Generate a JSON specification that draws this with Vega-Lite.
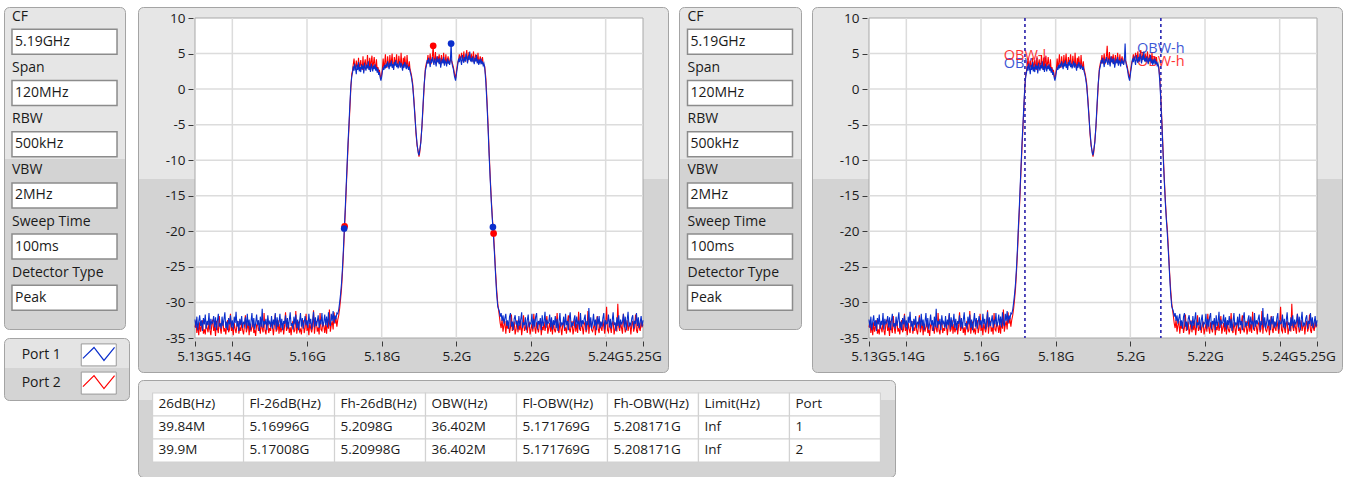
{
"$schema": "https://vega.github.io/schema/vega-lite/v6.json",
"background": "white",
"padding": {"left": 3, "top": 6, "right": 0, "bottom": 0},
"config": {"view": {"stroke": null}, "font": "Open Sans", "text": {"font": "Open Sans"}},
"datasets": {
"spec": [
{"f":5.13,"a":-32.4,"b":-33.5},{"f":5.13025,"a":-33.6,"b":-32.6},{"f":5.1305,"a":-32.0,"b":-34.3},{"f":5.13075,"a":-33.9,"b":-33.0},{"f":5.131,"a":-32.7,"b":-34.6},{"f":5.13125,"a":-31.8,"b":-32.8},{"f":5.1315,"a":-33.3,"b":-34.1},{"f":5.13175,"a":-32.5,"b":-33.4},{"f":5.132,"a":-34.0,"b":-32.5},{"f":5.13225,"a":-32.2,"b":-34.4},
{"f":5.1325,"a":-33.1,"b":-33.8},{"f":5.13275,"a":-31.7,"b":-34.5},{"f":5.133,"a":-33.7,"b":-32.9},{"f":5.13325,"a":-32.6,"b":-33.6},{"f":5.1335,"a":-33.2,"b":-34.2},{"f":5.13375,"a":-31.5,"b":-32.7},{"f":5.134,"a":-33.8,"b":-33.9},{"f":5.13425,"a":-32.3,"b":-34.6},{"f":5.1345,"a":-33.0,"b":-33.1},{"f":5.13475,"a":-32.8,"b":-32.4},
{"f":5.135,"a":-31.9,"b":-34.0},{"f":5.13525,"a":-33.5,"b":-33.3},{"f":5.1355,"a":-32.1,"b":-34.7},{"f":5.13575,"a":-33.9,"b":-32.6},{"f":5.136,"a":-32.6,"b":-33.7},{"f":5.13625,"a":-31.6,"b":-34.3},{"f":5.1365,"a":-33.4,"b":-31.9},{"f":5.13675,"a":-32.9,"b":-33.5},{"f":5.137,"a":-33.7,"b":-34.4},{"f":5.13725,"a":-32.0,"b":-33.0},
{"f":5.1375,"a":-33.3,"b":-32.8},{"f":5.13775,"a":-32.4,"b":-34.1},{"f":5.138,"a":-31.4,"b":-33.6},{"f":5.13825,"a":-33.6,"b":-34.5},{"f":5.1385,"a":-32.7,"b":-33.2},{"f":5.13875,"a":-33.9,"b":-32.5},{"f":5.139,"a":-32.2,"b":-34.2},{"f":5.13925,"a":-33.1,"b":-33.8},{"f":5.1395,"a":-31.8,"b":-31.6},{"f":5.13975,"a":-33.5,"b":-34.0},
{"f":5.14,"a":-32.5,"b":-33.4},{"f":5.14025,"a":-33.8,"b":-34.6},{"f":5.1405,"a":-32.0,"b":-32.9},{"f":5.14075,"a":-32.9,"b":-33.7},{"f":5.141,"a":-31.3,"b":-34.3},{"f":5.14125,"a":-33.4,"b":-33.1},{"f":5.1415,"a":-32.6,"b":-32.6},{"f":5.14175,"a":-34.0,"b":-34.4},{"f":5.142,"a":-32.3,"b":-33.5},{"f":5.14225,"a":-33.2,"b":-34.0},
{"f":5.1425,"a":-31.9,"b":-32.7},{"f":5.14275,"a":-33.6,"b":-33.9},{"f":5.143,"a":-32.8,"b":-34.5},{"f":5.14325,"a":-33.0,"b":-33.3},{"f":5.1435,"a":-32.1,"b":-31.8},{"f":5.14375,"a":-33.7,"b":-34.2},{"f":5.144,"a":-31.6,"b":-33.6},{"f":5.14425,"a":-33.3,"b":-32.8},{"f":5.1445,"a":-32.4,"b":-34.6},{"f":5.14475,"a":-33.9,"b":-33.0},
{"f":5.145,"a":-32.7,"b":-34.1},{"f":5.14525,"a":-31.5,"b":-33.4},{"f":5.1455,"a":-33.5,"b":-32.5},{"f":5.14575,"a":-32.2,"b":-34.3},{"f":5.146,"a":-33.8,"b":-33.8},{"f":5.14625,"a":-32.9,"b":-34.7},{"f":5.1465,"a":-31.7,"b":-33.2},{"f":5.14675,"a":-33.2,"b":-32.9},{"f":5.147,"a":-32.5,"b":-34.0},{"f":5.14725,"a":-34.0,"b":-33.5},
{"f":5.1475,"a":-32.0,"b":-34.4},{"f":5.14775,"a":-33.4,"b":-32.6},{"f":5.148,"a":-30.9,"b":-33.7},{"f":5.14825,"a":-33.6,"b":-34.2},{"f":5.1485,"a":-32.6,"b":-31.5},{"f":5.14875,"a":-33.1,"b":-33.9},{"f":5.149,"a":-32.3,"b":-34.5},{"f":5.14925,"a":-33.9,"b":-33.1},{"f":5.1495,"a":-31.8,"b":-32.8},{"f":5.14975,"a":-33.0,"b":-34.3},
{"f":5.15,"a":-32.7,"b":-33.6},{"f":5.15025,"a":-33.5,"b":-34.0},{"f":5.1505,"a":-31.9,"b":-32.7},{"f":5.15075,"a":-33.7,"b":-33.4},{"f":5.151,"a":-32.4,"b":-34.6},{"f":5.15125,"a":-33.2,"b":-33.2},{"f":5.1515,"a":-31.5,"b":-31.7},{"f":5.15175,"a":-33.8,"b":-34.1},{"f":5.152,"a":-32.1,"b":-33.8},{"f":5.15225,"a":-33.4,"b":-32.5},
{"f":5.1525,"a":-32.8,"b":-34.4},{"f":5.15275,"a":-31.6,"b":-33.0},{"f":5.153,"a":-33.6,"b":-34.2},{"f":5.15325,"a":-32.3,"b":-33.7},{"f":5.1535,"a":-33.9,"b":-32.9},{"f":5.15375,"a":-32.6,"b":-34.5},{"f":5.154,"a":-33.0,"b":-33.3},{"f":5.15425,"a":-31.8,"b":-31.4},{"f":5.1545,"a":-33.5,"b":-34.0},{"f":5.15475,"a":-32.2,"b":-33.6},
{"f":5.155,"a":-33.7,"b":-32.8},{"f":5.15525,"a":-32.5,"b":-34.3},{"f":5.1555,"a":-31.4,"b":-33.5},{"f":5.15575,"a":-33.3,"b":-34.6},{"f":5.156,"a":-32.9,"b":-33.1},{"f":5.15625,"a":-33.8,"b":-32.6},{"f":5.1565,"a":-32.0,"b":-34.2},{"f":5.15675,"a":-33.1,"b":-33.9},{"f":5.157,"a":-31.7,"b":-31.2},{"f":5.15725,"a":-33.6,"b":-34.4},
{"f":5.1575,"a":-32.4,"b":-33.4},{"f":5.15775,"a":-33.9,"b":-32.7},{"f":5.158,"a":-32.7,"b":-34.1},{"f":5.15825,"a":-31.5,"b":-33.8},{"f":5.1585,"a":-33.4,"b":-34.5},{"f":5.15875,"a":-32.2,"b":-33.0},{"f":5.159,"a":-33.7,"b":-32.5},{"f":5.15925,"a":-32.8,"b":-34.3},{"f":5.1595,"a":-31.9,"b":-33.6},{"f":5.15975,"a":-33.2,"b":-31.6},
{"f":5.16,"a":-32.5,"b":-34.0},{"f":5.16025,"a":-33.6,"b":-33.2},{"f":5.1605,"a":-31.6,"b":-34.6},{"f":5.16075,"a":-33.0,"b":-32.9},{"f":5.161,"a":-32.3,"b":-33.7},{"f":5.16125,"a":-33.8,"b":-34.2},{"f":5.1615,"a":-32.6,"b":-33.4},{"f":5.16175,"a":-31.3,"b":-31.1},{"f":5.162,"a":-33.5,"b":-34.4},{"f":5.16225,"a":-32.1,"b":-33.0},
{"f":5.1625,"a":-33.3,"b":-32.6},{"f":5.16275,"a":-32.7,"b":-34.1},{"f":5.163,"a":-31.8,"b":-33.5},{"f":5.16325,"a":-33.6,"b":-34.5},{"f":5.1635,"a":-32.4,"b":-31.5},{"f":5.16375,"a":-33.1,"b":-33.8},{"f":5.164,"a":-31.5,"b":-34.0},{"f":5.16425,"a":-33.4,"b":-32.8},{"f":5.1645,"a":-32.8,"b":-33.3},{"f":5.16475,"a":-31.7,"b":-34.3},
{"f":5.165,"a":-33.2,"b":-33.0},{"f":5.16525,"a":-32.0,"b":-34.4},{"f":5.1655,"a":-33.5,"b":-32.4},{"f":5.16575,"a":-31.4,"b":-33.7},{"f":5.166,"a":-32.9,"b":-31.0},{"f":5.16625,"a":-33.3,"b":-34.1},{"f":5.1665,"a":-31.6,"b":-33.2},{"f":5.16675,"a":-32.6,"b":-32.6},{"f":5.167,"a":-31.2,"b":-33.8},{"f":5.16725,"a":-32.9,"b":-31.4},
{"f":5.1675,"a":-31.8,"b":-33.0},{"f":5.16775,"a":-32.4,"b":-32.2},{"f":5.168,"a":-31.5,"b":-33.4},
{"f":5.16825,"a":-31.6,"b":-32.4},{"f":5.1685,"a":-31.0,"b":-31.8},{"f":5.16875,"a":-30.0,"b":-30.8},{"f":5.169,"a":-28.8,"b":-29.5},{"f":5.16925,"a":-27.3,"b":-28.0},{"f":5.1695,"a":-25.2,"b":-25.8},{"f":5.16975,"a":-22.6,"b":-23.2},{"f":5.17,"a":-19.5,"b":-20.2},
{"f":5.17025,"a":-16.8,"b":-17.3},{"f":5.1705,"a":-13.6,"b":-14.2},{"f":5.17075,"a":-10.5,"b":-11.0},{"f":5.171,"a":-7.4,"b":-8.0},{"f":5.17125,"a":-4.8,"b":-5.3},{"f":5.1715,"a":-2.0,"b":-2.6},{"f":5.17175,"a":0.5,"b":0.2},{"f":5.172,"a":1.8,"b":2.2},
{"f":5.1722,"a":2.3,"b":2.6},{"f":5.1724,"a":3.2,"b":3.5},{"f":5.1726,"a":2.6,"b":4.3},{"f":5.1728,"a":3.6,"b":3.1},{"f":5.173,"a":2.9,"b":2.7},{"f":5.1732,"a":2.1,"b":4.0},{"f":5.1734,"a":3.4,"b":3.2},{"f":5.1736,"a":2.7,"b":2.9},{"f":5.1738,"a":3.8,"b":4.4},{"f":5.174,"a":2.5,"b":2.8},
{"f":5.1742,"a":3.1,"b":3.4},{"f":5.1744,"a":2.4,"b":4.1},{"f":5.1746,"a":3.5,"b":3.0},{"f":5.1748,"a":2.8,"b":2.7},{"f":5.175,"a":3.3,"b":4.6},{"f":5.1752,"a":2.2,"b":2.5},{"f":5.1754,"a":3.7,"b":3.6},{"f":5.1756,"a":3.0,"b":4.2},{"f":5.1758,"a":2.6,"b":2.9},{"f":5.176,"a":3.4,"b":3.3},
{"f":5.1762,"a":2.9,"b":4.8},{"f":5.1764,"a":3.9,"b":3.5},{"f":5.1766,"a":2.7,"b":2.8},{"f":5.1768,"a":3.2,"b":4.4},{"f":5.177,"a":2.4,"b":2.6},{"f":5.1772,"a":3.6,"b":3.9},{"f":5.1774,"a":3.0,"b":4.7},{"f":5.1776,"a":2.5,"b":2.9},{"f":5.1778,"a":3.3,"b":3.6},{"f":5.178,"a":2.8,"b":4.5},
{"f":5.1782,"a":3.5,"b":3.3},{"f":5.1784,"a":2.6,"b":2.8},{"f":5.1786,"a":3.1,"b":4.2},{"f":5.1788,"a":2.3,"b":2.6},{"f":5.179,"a":2.9,"b":3.1},{"f":5.1792,"a":2.0,"b":2.4},{"f":5.1794,"a":2.4,"b":2.7},{"f":5.1796,"a":1.6,"b":1.9},{"f":5.1798,"a":1.2,"b":1.5},{"f":5.18,"a":1.7,"b":2.1},
{"f":5.1802,"a":2.5,"b":2.9},{"f":5.1804,"a":3.0,"b":4.3},{"f":5.1806,"a":2.7,"b":3.0},{"f":5.1808,"a":3.4,"b":3.6},{"f":5.181,"a":2.9,"b":4.9},{"f":5.1812,"a":3.6,"b":3.3},{"f":5.1814,"a":3.1,"b":3.0},{"f":5.1816,"a":3.9,"b":4.6},{"f":5.1818,"a":3.3,"b":3.5},{"f":5.182,"a":2.8,"b":3.1},
{"f":5.1822,"a":3.7,"b":4.8},{"f":5.1824,"a":3.2,"b":3.4},{"f":5.1826,"a":4.0,"b":3.9},{"f":5.1828,"a":3.0,"b":5.0},{"f":5.183,"a":3.5,"b":3.2},{"f":5.1832,"a":2.7,"b":3.0},{"f":5.1834,"a":3.8,"b":4.5},{"f":5.1836,"a":3.3,"b":3.6},{"f":5.1838,"a":4.1,"b":3.8},{"f":5.184,"a":3.1,"b":4.9},
{"f":5.1842,"a":3.6,"b":3.3},{"f":5.1844,"a":2.9,"b":3.2},{"f":5.1846,"a":3.4,"b":4.7},{"f":5.1848,"a":3.9,"b":3.6},{"f":5.185,"a":3.0,"b":3.1},{"f":5.1852,"a":3.7,"b":5.1},{"f":5.1854,"a":3.2,"b":3.4},{"f":5.1856,"a":2.6,"b":2.9},{"f":5.1858,"a":3.5,"b":4.4},{"f":5.186,"a":3.0,"b":3.2},
{"f":5.1862,"a":3.8,"b":4.6},{"f":5.1864,"a":3.3,"b":3.5},{"f":5.1866,"a":2.8,"b":3.0},{"f":5.1868,"a":3.4,"b":4.8},{"f":5.187,"a":3.1,"b":3.3},{"f":5.1872,"a":2.7,"b":2.9},{"f":5.1874,"a":3.2,"b":3.9},{"f":5.1876,"a":2.5,"b":2.8},{"f":5.1878,"a":2.1,"b":2.4},{"f":5.188,"a":1.6,"b":1.9},
{"f":5.1883,"a":0.5,"b":0.8},{"f":5.1886,"a":-1.5,"b":-1.2},{"f":5.1889,"a":-3.8,"b":-3.5},{"f":5.1892,"a":-6.0,"b":-6.3},{"f":5.1895,"a":-7.8,"b":-8.0},{"f":5.1898,"a":-9.0,"b":-8.8},{"f":5.19,"a":-9.3,"b":-9.5},
{"f":5.1902,"a":-8.6,"b":-8.9},{"f":5.1905,"a":-7.5,"b":-7.2},{"f":5.1908,"a":-5.0,"b":-5.3},{"f":5.1911,"a":-2.0,"b":-2.4},{"f":5.1914,"a":0.8,"b":0.5},{"f":5.1917,"a":2.6,"b":2.9},
{"f":5.192,"a":3.3,"b":3.7},{"f":5.1922,"a":4.1,"b":3.9},{"f":5.1924,"a":3.6,"b":4.8},{"f":5.1926,"a":4.4,"b":3.6},{"f":5.1928,"a":3.8,"b":4.1},{"f":5.193,"a":3.1,"b":5.0},{"f":5.1932,"a":4.2,"b":3.5},{"f":5.1934,"a":3.7,"b":4.0},{"f":5.1936,"a":4.5,"b":4.7},{"f":5.1938,"a":3.9,"b":6.1},
{"f":5.194,"a":3.4,"b":3.8},{"f":5.1942,"a":4.3,"b":4.0},{"f":5.1944,"a":3.8,"b":5.2},{"f":5.1946,"a":3.2,"b":3.5},{"f":5.1948,"a":4.6,"b":4.3},{"f":5.195,"a":3.9,"b":4.6},{"f":5.1952,"a":4.1,"b":3.7},{"f":5.1954,"a":3.5,"b":4.9},{"f":5.1956,"a":4.4,"b":3.9},{"f":5.1958,"a":3.0,"b":3.4},
{"f":5.196,"a":3.7,"b":4.8},{"f":5.1962,"a":4.2,"b":3.9},{"f":5.1964,"a":3.6,"b":3.8},{"f":5.1966,"a":4.5,"b":5.1},{"f":5.1968,"a":3.3,"b":3.6},{"f":5.197,"a":4.0,"b":3.7},{"f":5.1972,"a":3.8,"b":4.9},{"f":5.1974,"a":3.2,"b":3.5},{"f":5.1976,"a":4.3,"b":4.1},{"f":5.1978,"a":3.6,"b":4.6},
{"f":5.198,"a":3.9,"b":3.7},{"f":5.1982,"a":3.4,"b":3.6},{"f":5.1984,"a":4.0,"b":4.4},{"f":5.1986,"a":6.4,"b":4.1},{"f":5.1988,"a":3.7,"b":3.9},{"f":5.199,"a":3.2,"b":3.5},{"f":5.1992,"a":2.8,"b":3.1},
{"f":5.1995,"a":1.8,"b":2.2},{"f":5.1998,"a":1.2,"b":1.5},{"f":5.2001,"a":2.4,"b":2.8},
{"f":5.2004,"a":3.5,"b":3.8},{"f":5.2006,"a":4.3,"b":4.1},{"f":5.2008,"a":3.8,"b":4.9},{"f":5.201,"a":4.6,"b":4.2},{"f":5.2012,"a":4.0,"b":4.3},{"f":5.2014,"a":3.4,"b":5.1},{"f":5.2016,"a":4.8,"b":4.4},{"f":5.2018,"a":4.1,"b":3.9},{"f":5.202,"a":3.7,"b":5.3},{"f":5.2022,"a":4.5,"b":4.2},
{"f":5.2024,"a":3.9,"b":4.0},{"f":5.2026,"a":5.0,"b":4.7},{"f":5.2028,"a":4.2,"b":5.5},{"f":5.203,"a":3.6,"b":3.8},{"f":5.2032,"a":4.7,"b":4.4},{"f":5.2034,"a":4.1,"b":5.2},{"f":5.2036,"a":5.3,"b":4.6},{"f":5.2038,"a":3.9,"b":4.1},{"f":5.204,"a":4.4,"b":5.0},{"f":5.2042,"a":3.8,"b":3.9},
{"f":5.2044,"a":4.6,"b":4.4},{"f":5.2046,"a":4.0,"b":5.3},{"f":5.2048,"a":3.5,"b":3.7},{"f":5.205,"a":4.4,"b":4.2},{"f":5.2052,"a":3.9,"b":4.9},{"f":5.2054,"a":4.8,"b":4.5},{"f":5.2056,"a":3.6,"b":3.8},{"f":5.2058,"a":4.2,"b":5.1},{"f":5.206,"a":3.4,"b":3.6},{"f":5.2062,"a":4.0,"b":3.9},
{"f":5.2064,"a":3.7,"b":4.6},{"f":5.2066,"a":4.3,"b":4.0},{"f":5.2068,"a":3.5,"b":3.8},{"f":5.207,"a":3.9,"b":4.5},{"f":5.2072,"a":3.3,"b":3.5},{"f":5.2074,"a":3.6,"b":3.4},{"f":5.2076,"a":3.0,"b":3.2},
{"f":5.2079,"a":1.0,"b":1.6},{"f":5.2082,"a":-2.0,"b":-1.5},{"f":5.2085,"a":-5.5,"b":-5.0},{"f":5.2088,"a":-9.5,"b":-9.0},{"f":5.2091,"a":-13.0,"b":-12.6},{"f":5.2094,"a":-16.2,"b":-15.8},{"f":5.2097,"a":-18.8,"b":-18.5},{"f":5.2099,"a":-20.3,"b":-19.6},{"f":5.2102,"a":-23.0,"b":-22.5},{"f":5.2105,"a":-26.0,"b":-25.6},{"f":5.2108,"a":-28.8,"b":-28.2},{"f":5.2111,"a":-30.6,"b":-30.2},
{"f":5.2115,"a":-31.2,"b":-31.8},{"f":5.21175,"a":-32.0,"b":-32.9},{"f":5.212,"a":-31.5,"b":-33.6},{"f":5.21225,"a":-32.6,"b":-32.4},{"f":5.2125,"a":-31.8,"b":-34.1},{"f":5.21275,"a":-33.0,"b":-33.2},{"f":5.213,"a":-32.2,"b":-32.6},{"f":5.21325,"a":-31.6,"b":-34.4},{"f":5.2135,"a":-33.3,"b":-33.0},{"f":5.21375,"a":-32.5,"b":-33.7},
{"f":5.214,"a":-33.7,"b":-32.8},{"f":5.21425,"a":-32.0,"b":-34.3},{"f":5.2145,"a":-31.5,"b":-33.5},{"f":5.21475,"a":-33.4,"b":-31.7},{"f":5.215,"a":-32.7,"b":-34.0},{"f":5.21525,"a":-33.9,"b":-33.3},{"f":5.2155,"a":-32.3,"b":-32.7},{"f":5.21575,"a":-31.8,"b":-34.5},{"f":5.216,"a":-33.1,"b":-33.8},{"f":5.21625,"a":-32.6,"b":-32.5},
{"f":5.2165,"a":-33.8,"b":-34.2},{"f":5.21675,"a":-31.9,"b":-33.1},{"f":5.217,"a":-33.3,"b":-33.9},{"f":5.21725,"a":-32.4,"b":-32.6},{"f":5.2175,"a":-31.4,"b":-34.6},{"f":5.21775,"a":-33.6,"b":-33.4},{"f":5.218,"a":-32.8,"b":-31.8},{"f":5.21825,"a":-33.2,"b":-34.0},{"f":5.2185,"a":-32.1,"b":-33.6},{"f":5.21875,"a":-33.9,"b":-32.9},
{"f":5.219,"a":-32.5,"b":-34.3},{"f":5.21925,"a":-31.7,"b":-33.2},{"f":5.2195,"a":-33.5,"b":-32.7},{"f":5.21975,"a":-32.9,"b":-34.5},{"f":5.22,"a":-33.0,"b":-33.8},{"f":5.22025,"a":-31.6,"b":-33.0},{"f":5.2205,"a":-33.7,"b":-34.1},{"f":5.22075,"a":-32.3,"b":-31.6},{"f":5.221,"a":-33.4,"b":-33.5},{"f":5.22125,"a":-32.0,"b":-34.4},
{"f":5.2215,"a":-31.5,"b":-32.8},{"f":5.22175,"a":-33.8,"b":-33.7},{"f":5.222,"a":-32.6,"b":-34.2},{"f":5.22225,"a":-33.1,"b":-33.1},{"f":5.2225,"a":-32.2,"b":-32.5},{"f":5.22275,"a":-33.9,"b":-34.6},{"f":5.223,"a":-31.8,"b":-33.4},{"f":5.22325,"a":-33.3,"b":-33.9},{"f":5.2235,"a":-32.7,"b":-32.7},{"f":5.22375,"a":-31.3,"b":-34.0},
{"f":5.224,"a":-33.6,"b":-33.3},{"f":5.22425,"a":-32.4,"b":-31.9},{"f":5.2245,"a":-33.0,"b":-34.4},{"f":5.22475,"a":-32.8,"b":-33.6},{"f":5.225,"a":-31.7,"b":-32.9},{"f":5.22525,"a":-33.5,"b":-34.1},{"f":5.2255,"a":-32.1,"b":-33.0},{"f":5.22575,"a":-33.8,"b":-34.5},{"f":5.226,"a":-32.5,"b":-32.6},{"f":5.22625,"a":-33.2,"b":-33.8},
{"f":5.2265,"a":-31.9,"b":-34.2},{"f":5.22675,"a":-33.6,"b":-33.4},{"f":5.227,"a":-32.3,"b":-31.5},{"f":5.22725,"a":-34.0,"b":-33.9},{"f":5.2275,"a":-32.7,"b":-34.3},{"f":5.22775,"a":-31.5,"b":-32.8},{"f":5.228,"a":-33.4,"b":-33.6},{"f":5.22825,"a":-32.9,"b":-34.6},{"f":5.2285,"a":-33.1,"b":-33.1},{"f":5.22875,"a":-32.0,"b":-32.7},
{"f":5.229,"a":-33.7,"b":-34.0},{"f":5.22925,"a":-31.6,"b":-33.5},{"f":5.2295,"a":-33.2,"b":-34.4},{"f":5.22975,"a":-32.6,"b":-32.9},{"f":5.23,"a":-33.9,"b":-31.8},{"f":5.23025,"a":-32.2,"b":-33.7},{"f":5.2305,"a":-31.4,"b":-34.2},{"f":5.23075,"a":-33.5,"b":-33.3},{"f":5.231,"a":-32.8,"b":-32.6},{"f":5.23125,"a":-33.3,"b":-34.5},
{"f":5.2315,"a":-32.4,"b":-33.8},{"f":5.23175,"a":-31.8,"b":-32.4},{"f":5.232,"a":-33.6,"b":-34.1},{"f":5.23225,"a":-32.0,"b":-33.0},{"f":5.2325,"a":-33.0,"b":-34.3},{"f":5.23275,"a":-32.7,"b":-31.3},{"f":5.233,"a":-33.8,"b":-33.6},{"f":5.23325,"a":-31.5,"b":-34.0},{"f":5.2335,"a":-33.4,"b":-32.8},{"f":5.23375,"a":-32.5,"b":-33.4},
{"f":5.234,"a":-33.1,"b":-34.5},{"f":5.23425,"a":-32.3,"b":-33.1},{"f":5.2345,"a":-31.7,"b":-32.7},{"f":5.23475,"a":-33.9,"b":-34.2},{"f":5.235,"a":-32.6,"b":-33.7},{"f":5.23525,"a":-33.2,"b":-31.2},{"f":5.2355,"a":-30.8,"b":-34.4},{"f":5.23575,"a":-33.5,"b":-33.0},{"f":5.236,"a":-32.1,"b":-32.6},{"f":5.23625,"a":-33.7,"b":-33.9},
{"f":5.2365,"a":-32.8,"b":-34.1},{"f":5.23675,"a":-31.6,"b":-33.5},{"f":5.237,"a":-33.3,"b":-32.9},{"f":5.23725,"a":-32.4,"b":-34.6},{"f":5.2375,"a":-33.9,"b":-33.2},{"f":5.23775,"a":-32.0,"b":-31.9},{"f":5.238,"a":-33.1,"b":-33.8},{"f":5.23825,"a":-31.9,"b":-34.3},{"f":5.2385,"a":-33.6,"b":-32.7},{"f":5.23875,"a":-32.7,"b":-33.6},
{"f":5.239,"a":-33.4,"b":-34.0},{"f":5.23925,"a":-32.2,"b":-32.5},{"f":5.2395,"a":-31.5,"b":-33.4},{"f":5.23975,"a":-33.8,"b":-34.4},{"f":5.24,"a":-32.5,"b":-33.1},{"f":5.24025,"a":-33.0,"b":-30.6},{"f":5.2405,"a":-32.9,"b":-33.9},{"f":5.24075,"a":-31.7,"b":-34.2},{"f":5.241,"a":-33.5,"b":-32.8},{"f":5.24125,"a":-32.3,"b":-33.5},
{"f":5.2415,"a":-33.7,"b":-34.3},{"f":5.24175,"a":-32.6,"b":-33.0},{"f":5.242,"a":-31.4,"b":-32.6},{"f":5.24225,"a":-33.2,"b":-34.5},{"f":5.2425,"a":-32.8,"b":-33.7},{"f":5.24275,"a":-34.0,"b":-32.9},{"f":5.243,"a":-32.1,"b":-34.1},{"f":5.24325,"a":-33.3,"b":-30.2},{"f":5.2435,"a":-31.8,"b":-33.4},{"f":5.24375,"a":-33.6,"b":-34.0},
{"f":5.244,"a":-32.4,"b":-32.7},{"f":5.24425,"a":-33.1,"b":-33.6},{"f":5.2445,"a":-32.7,"b":-34.4},{"f":5.24475,"a":-31.6,"b":-31.6},{"f":5.245,"a":-33.5,"b":-33.2},{"f":5.24525,"a":-32.0,"b":-34.2},{"f":5.2455,"a":-33.9,"b":-33.8},{"f":5.24575,"a":-32.5,"b":-32.5},{"f":5.246,"a":-31.3,"b":-34.0},{"f":5.24625,"a":-33.4,"b":-33.3},
{"f":5.2465,"a":-32.9,"b":-32.9},{"f":5.24675,"a":-33.2,"b":-34.5},{"f":5.247,"a":-32.2,"b":-33.1},{"f":5.24725,"a":-31.8,"b":-32.6},{"f":5.2475,"a":-33.7,"b":-34.1},{"f":5.24775,"a":-32.6,"b":-33.5},{"f":5.248,"a":-33.0,"b":-31.7},{"f":5.24825,"a":-31.5,"b":-33.9},{"f":5.2485,"a":-33.3,"b":-34.3},{"f":5.24875,"a":-32.1,"b":-32.8},
{"f":5.249,"a":-33.6,"b":-33.6},{"f":5.24925,"a":-32.8,"b":-34.0},{"f":5.2495,"a":-31.9,"b":-32.7},{"f":5.24975,"a":-33.4,"b":-33.4},{"f":5.25,"a":-32.5,"b":-33.1}
],
"settings": [
{"i":0,"k":"CF","v":"5.19GHz"},{"i":1,"k":"Span","v":"120MHz"},{"i":2,"k":"RBW","v":"500kHz"},
{"i":3,"k":"VBW","v":"2MHz"},{"i":4,"k":"Sweep Time","v":"100ms"},{"i":5,"k":"Detector Type","v":"Peak"}
],
"gridx": [{"g":5.14},{"g":5.16},{"g":5.18},{"g":5.2},{"g":5.22},{"g":5.24}],
"gridy": [{"g":-30},{"g":-25},{"g":-20},{"g":-15},{"g":-10},{"g":-5},{"g":0},{"g":5}]
},
"hconcat": [
{"vconcat": [
 {"width": 121, "height": 322,
  "view": {"fill": {"gradient": "linear", "x1": 0, "y1": 0, "x2": 0, "y2": 1, "stops": [{"offset": 0, "color": "#e6e6e6"}, {"offset": 0.47, "color": "#e6e6e6"}, {"offset": 0.47, "color": "#d3d3d3"}, {"offset": 1, "color": "#d3d3d3"}]}, "stroke": "#a4a4a4", "cornerRadius": 5},
  "data": {"name": "settings"},
  "encoding": {
   "x": {"datum": "p", "type": "nominal", "scale": {"type": "band", "paddingInner": 0, "paddingOuter": 0.076}, "axis": null},
   "y": {"field": "i", "type": "ordinal", "scale": {"type": "band", "paddingInner": 0, "paddingOuter": 0.145, "align": 0.05}, "axis": null}
  },
  "layer": [
   {"mark": {"type": "rect", "height": 25, "yOffset": 8.5, "fill": "white", "stroke": "#8c8c8c", "strokeWidth": 1.5}},
   {"mark": {"type": "text", "align": "left", "baseline": "middle", "dx": -52.5, "dy": -16.6, "fontSize": 14, "color": "#1a1a1a"}, "encoding": {"text": {"field": "k"}}},
   {"mark": {"type": "text", "align": "left", "baseline": "middle", "dx": -49.5, "dy": 8.4, "fontSize": 14, "color": "#1a1a1a"}, "encoding": {"text": {"field": "v"}}}
  ]
 },
 {"width": 125, "height": 62,
  "view": {"fill": {"gradient": "linear", "x1": 0, "y1": 0, "x2": 0, "y2": 1, "stops": [{"offset": 0, "color": "#e4e4e4"}, {"offset": 0.48, "color": "#e4e4e4"}, {"offset": 0.48, "color": "#d4d4d4"}, {"offset": 1, "color": "#d4d4d4"}]}, "stroke": "#a4a4a4", "cornerRadius": 5},
  "data": {"values": [{"p": "Port 1"}, {"p": "Port 2"}]},
  "encoding": {"y": {"field": "p", "type": "nominal", "scale": {"type": "band", "paddingInner": 0, "paddingOuter": 0.1}, "axis": null}},
  "layer": [
   {"mark": {"type": "text", "fontSize": 14, "color": "#1a1a1a", "dx": 6, "baseline": "middle"},
    "encoding": {"x": {"datum": "t", "type": "nominal", "scale": {"type": "band", "domain": ["t", "i"], "paddingInner": 0, "paddingOuter": 0}, "axis": null}, "text": {"field": "p"}}},
   {"mark": {"type": "rect", "width": 35, "height": 22, "fill": "white", "stroke": "#9a9a9a", "xOffset": 1},
    "encoding": {"x": {"datum": "i", "type": "nominal"}}},
   {"mark": {"type": "point", "shape": "M-1,0.22L-0.3,-0.47L0.33,0.35L1,-0.47", "filled": false, "size": 1000, "strokeWidth": 1.2, "xOffset": 1, "opacity": 1},
    "encoding": {"x": {"datum": "i", "type": "nominal"},
     "color": {"field": "p", "type": "nominal", "scale": {"domain": ["Port 1", "Port 2"], "range": ["#0a2ecc", "#ff0000"]}, "legend": null}}}
  ]
 }
], "spacing": 7},
{"vconcat": [
 {"hconcat": [
  {"width": 530, "height": 365,
   "view": {"fill": {"gradient": "linear", "x1": 0, "y1": 0, "x2": 0, "y2": 1, "stops": [{"offset": 0, "color": "#e6e6e6"}, {"offset": 0.47, "color": "#e6e6e6"}, {"offset": 0.47, "color": "#d3d3d3"}, {"offset": 1, "color": "#d3d3d3"}]}, "stroke": "#a4a4a4", "cornerRadius": 5},
   "layer": [
    {"data": {"values": [{}]}, "mark": {"type": "rect", "fill": "white", "stroke": "#a8a8a8"},
     "encoding": {
      "x": {"datum": 5.13, "type": "quantitative", "scale": {"domain": [5.114732, 5.256696], "nice": false, "zero": false}, "axis": {"values": [5.13, 5.14, 5.16, 5.18, 5.2, 5.22, 5.24, 5.25], "labelExpr": "datum.value + 'G'", "title": null, "grid": false, "domain": false, "tickSize": 5, "tickColor": "#3a3a3a", "offset": -31, "labelPadding": 3, "labelOverlap": false, "labelFlush": false, "labelFont": "Open Sans", "labelFontSize": 13.5, "labelColor": "#1a1a1a", "zindex": 1}},
      "x2": {"datum": 5.25},
      "y": {"datum": 10, "type": "quantitative", "scale": {"domain": [-39.781, 11.547], "nice": false, "zero": false}, "axis": {"values": [-35, -30, -25, -20, -15, -10, -5, 0, 5, 10], "labelExpr": "'' + datum.value", "title": null, "grid": false, "domain": false, "tickSize": 5, "tickColor": "#3a3a3a", "offset": -55, "labelPadding": 3, "labelOverlap": false, "labelFlush": false, "labelFont": "Open Sans", "labelFontSize": 13.5, "labelColor": "#1a1a1a", "zindex": 1}},
      "y2": {"datum": -35}}},
    {"data": {"name": "gridx"}, "mark": {"type": "rule", "color": "#dcdcdc", "strokeWidth": 1.5},
     "encoding": {
      "x": {"field": "g", "type": "quantitative", "scale": {"domain": [5.114732, 5.256696], "nice": false, "zero": false}, "axis": {"values": [5.13, 5.14, 5.16, 5.18, 5.2, 5.22, 5.24, 5.25], "labelExpr": "datum.value + 'G'", "title": null, "grid": false, "domain": false, "tickSize": 5, "tickColor": "#3a3a3a", "offset": -31, "labelPadding": 3, "labelOverlap": false, "labelFlush": false, "labelFont": "Open Sans", "labelFontSize": 13.5, "labelColor": "#1a1a1a", "zindex": 1}},
      "y": {"datum": 10, "type": "quantitative", "scale": {"domain": [-39.781, 11.547], "nice": false, "zero": false}, "axis": {"values": [-35, -30, -25, -20, -15, -10, -5, 0, 5, 10], "labelExpr": "'' + datum.value", "title": null, "grid": false, "domain": false, "tickSize": 5, "tickColor": "#3a3a3a", "offset": -55, "labelPadding": 3, "labelOverlap": false, "labelFlush": false, "labelFont": "Open Sans", "labelFontSize": 13.5, "labelColor": "#1a1a1a", "zindex": 1}},
      "y2": {"datum": -35}}},
    {"data": {"name": "gridy"}, "mark": {"type": "rule", "color": "#dcdcdc", "strokeWidth": 1.5},
     "encoding": {
      "y": {"field": "g", "type": "quantitative", "scale": {"domain": [-39.781, 11.547], "nice": false, "zero": false}, "axis": {"values": [-35, -30, -25, -20, -15, -10, -5, 0, 5, 10], "labelExpr": "'' + datum.value", "title": null, "grid": false, "domain": false, "tickSize": 5, "tickColor": "#3a3a3a", "offset": -55, "labelPadding": 3, "labelOverlap": false, "labelFlush": false, "labelFont": "Open Sans", "labelFontSize": 13.5, "labelColor": "#1a1a1a", "zindex": 1}},
      "x": {"datum": 5.13, "type": "quantitative", "scale": {"domain": [5.114732, 5.256696], "nice": false, "zero": false}, "axis": {"values": [5.13, 5.14, 5.16, 5.18, 5.2, 5.22, 5.24, 5.25], "labelExpr": "datum.value + 'G'", "title": null, "grid": false, "domain": false, "tickSize": 5, "tickColor": "#3a3a3a", "offset": -31, "labelPadding": 3, "labelOverlap": false, "labelFlush": false, "labelFont": "Open Sans", "labelFontSize": 13.5, "labelColor": "#1a1a1a", "zindex": 1}},
      "x2": {"datum": 5.25}}},
    {"data": {"name": "spec"}, "mark": {"type": "line", "color": "#ff0000", "strokeWidth": 1.1},
     "encoding": {
      "x": {"field": "f", "type": "quantitative", "scale": {"domain": [5.114732, 5.256696], "nice": false, "zero": false}, "axis": {"values": [5.13, 5.14, 5.16, 5.18, 5.2, 5.22, 5.24, 5.25], "labelExpr": "datum.value + 'G'", "title": null, "grid": false, "domain": false, "tickSize": 5, "tickColor": "#3a3a3a", "offset": -31, "labelPadding": 3, "labelOverlap": false, "labelFlush": false, "labelFont": "Open Sans", "labelFontSize": 13.5, "labelColor": "#1a1a1a", "zindex": 1}},
      "y": {"field": "b", "type": "quantitative", "scale": {"domain": [-39.781, 11.547], "nice": false, "zero": false}, "axis": {"values": [-35, -30, -25, -20, -15, -10, -5, 0, 5, 10], "labelExpr": "'' + datum.value", "title": null, "grid": false, "domain": false, "tickSize": 5, "tickColor": "#3a3a3a", "offset": -55, "labelPadding": 3, "labelOverlap": false, "labelFlush": false, "labelFont": "Open Sans", "labelFontSize": 13.5, "labelColor": "#1a1a1a", "zindex": 1}}}},
    {"data": {"name": "spec"}, "mark": {"type": "line", "color": "#0a2ecc", "strokeWidth": 1.1},
     "encoding": {
      "x": {"field": "f", "type": "quantitative", "scale": {"domain": [5.114732, 5.256696], "nice": false, "zero": false}, "axis": {"values": [5.13, 5.14, 5.16, 5.18, 5.2, 5.22, 5.24, 5.25], "labelExpr": "datum.value + 'G'", "title": null, "grid": false, "domain": false, "tickSize": 5, "tickColor": "#3a3a3a", "offset": -31, "labelPadding": 3, "labelOverlap": false, "labelFlush": false, "labelFont": "Open Sans", "labelFontSize": 13.5, "labelColor": "#1a1a1a", "zindex": 1}},
      "y": {"field": "a", "type": "quantitative", "scale": {"domain": [-39.781, 11.547], "nice": false, "zero": false}, "axis": {"values": [-35, -30, -25, -20, -15, -10, -5, 0, 5, 10], "labelExpr": "'' + datum.value", "title": null, "grid": false, "domain": false, "tickSize": 5, "tickColor": "#3a3a3a", "offset": -55, "labelPadding": 3, "labelOverlap": false, "labelFlush": false, "labelFont": "Open Sans", "labelFontSize": 13.5, "labelColor": "#1a1a1a", "zindex": 1}}}},
    {"data": {"values": [
      {"f": 5.17008, "v": -19.3, "port": "Port 2"}, {"f": 5.1938, "v": 6.1, "port": "Port 2"}, {"f": 5.20998, "v": -20.3, "port": "Port 2"},
      {"f": 5.16996, "v": -19.6, "port": "Port 1"}, {"f": 5.1986, "v": 6.4, "port": "Port 1"}, {"f": 5.2098, "v": -19.4, "port": "Port 1"}]},
     "mark": {"type": "circle", "size": 45, "opacity": 1},
     "encoding": {
      "x": {"field": "f", "type": "quantitative", "scale": {"domain": [5.114732, 5.256696], "nice": false, "zero": false}, "axis": {"values": [5.13, 5.14, 5.16, 5.18, 5.2, 5.22, 5.24, 5.25], "labelExpr": "datum.value + 'G'", "title": null, "grid": false, "domain": false, "tickSize": 5, "tickColor": "#3a3a3a", "offset": -31, "labelPadding": 3, "labelOverlap": false, "labelFlush": false, "labelFont": "Open Sans", "labelFontSize": 13.5, "labelColor": "#1a1a1a", "zindex": 1}},
      "y": {"field": "v", "type": "quantitative", "scale": {"domain": [-39.781, 11.547], "nice": false, "zero": false}, "axis": {"values": [-35, -30, -25, -20, -15, -10, -5, 0, 5, 10], "labelExpr": "'' + datum.value", "title": null, "grid": false, "domain": false, "tickSize": 5, "tickColor": "#3a3a3a", "offset": -55, "labelPadding": 3, "labelOverlap": false, "labelFlush": false, "labelFont": "Open Sans", "labelFontSize": 13.5, "labelColor": "#1a1a1a", "zindex": 1}},
      "color": {"field": "port", "type": "nominal", "scale": {"domain": ["Port 1", "Port 2"], "range": ["#0a2ecc", "#ff0000"]}, "legend": null}}}
   ]
  },
  {"width": 122, "height": 322,
   "view": {"fill": {"gradient": "linear", "x1": 0, "y1": 0, "x2": 0, "y2": 1, "stops": [{"offset": 0, "color": "#e6e6e6"}, {"offset": 0.47, "color": "#e6e6e6"}, {"offset": 0.47, "color": "#d3d3d3"}, {"offset": 1, "color": "#d3d3d3"}]}, "stroke": "#a4a4a4", "cornerRadius": 5},
   "data": {"name": "settings"},
   "encoding": {
    "x": {"datum": "p", "type": "nominal", "scale": {"type": "band", "paddingInner": 0, "paddingOuter": 0.081}, "axis": null},
    "y": {"field": "i", "type": "ordinal", "scale": {"type": "band", "paddingInner": 0, "paddingOuter": 0.145, "align": 0.05}, "axis": null}
   },
   "layer": [
    {"mark": {"type": "rect", "height": 25, "yOffset": 8.5, "fill": "white", "stroke": "#8c8c8c", "strokeWidth": 1.5}},
    {"mark": {"type": "text", "align": "left", "baseline": "middle", "dx": -52.5, "dy": -16.6, "fontSize": 14, "color": "#1a1a1a"}, "encoding": {"text": {"field": "k"}}},
    {"mark": {"type": "text", "align": "left", "baseline": "middle", "dx": -49.5, "dy": 8.4, "fontSize": 14, "color": "#1a1a1a"}, "encoding": {"text": {"field": "v"}}}
   ]
  },
  {"width": 530, "height": 365,
   "view": {"fill": {"gradient": "linear", "x1": 0, "y1": 0, "x2": 0, "y2": 1, "stops": [{"offset": 0, "color": "#e6e6e6"}, {"offset": 0.47, "color": "#e6e6e6"}, {"offset": 0.47, "color": "#d3d3d3"}, {"offset": 1, "color": "#d3d3d3"}]}, "stroke": "#a4a4a4", "cornerRadius": 5},
   "layer": [
    {"data": {"values": [{}]}, "mark": {"type": "rect", "fill": "white", "stroke": "#a8a8a8"},
     "encoding": {
      "x": {"datum": 5.13, "type": "quantitative", "scale": {"domain": [5.114732, 5.256696], "nice": false, "zero": false}, "axis": {"values": [5.13, 5.14, 5.16, 5.18, 5.2, 5.22, 5.24, 5.25], "labelExpr": "datum.value + 'G'", "title": null, "grid": false, "domain": false, "tickSize": 5, "tickColor": "#3a3a3a", "offset": -31, "labelPadding": 3, "labelOverlap": false, "labelFlush": false, "labelFont": "Open Sans", "labelFontSize": 13.5, "labelColor": "#1a1a1a", "zindex": 1}},
      "x2": {"datum": 5.25},
      "y": {"datum": 10, "type": "quantitative", "scale": {"domain": [-39.781, 11.547], "nice": false, "zero": false}, "axis": {"values": [-35, -30, -25, -20, -15, -10, -5, 0, 5, 10], "labelExpr": "'' + datum.value", "title": null, "grid": false, "domain": false, "tickSize": 5, "tickColor": "#3a3a3a", "offset": -55, "labelPadding": 3, "labelOverlap": false, "labelFlush": false, "labelFont": "Open Sans", "labelFontSize": 13.5, "labelColor": "#1a1a1a", "zindex": 1}},
      "y2": {"datum": -35}}},
    {"data": {"name": "gridx"}, "mark": {"type": "rule", "color": "#dcdcdc", "strokeWidth": 1.5},
     "encoding": {
      "x": {"field": "g", "type": "quantitative", "scale": {"domain": [5.114732, 5.256696], "nice": false, "zero": false}, "axis": {"values": [5.13, 5.14, 5.16, 5.18, 5.2, 5.22, 5.24, 5.25], "labelExpr": "datum.value + 'G'", "title": null, "grid": false, "domain": false, "tickSize": 5, "tickColor": "#3a3a3a", "offset": -31, "labelPadding": 3, "labelOverlap": false, "labelFlush": false, "labelFont": "Open Sans", "labelFontSize": 13.5, "labelColor": "#1a1a1a", "zindex": 1}},
      "y": {"datum": 10, "type": "quantitative", "scale": {"domain": [-39.781, 11.547], "nice": false, "zero": false}, "axis": {"values": [-35, -30, -25, -20, -15, -10, -5, 0, 5, 10], "labelExpr": "'' + datum.value", "title": null, "grid": false, "domain": false, "tickSize": 5, "tickColor": "#3a3a3a", "offset": -55, "labelPadding": 3, "labelOverlap": false, "labelFlush": false, "labelFont": "Open Sans", "labelFontSize": 13.5, "labelColor": "#1a1a1a", "zindex": 1}},
      "y2": {"datum": -35}}},
    {"data": {"name": "gridy"}, "mark": {"type": "rule", "color": "#dcdcdc", "strokeWidth": 1.5},
     "encoding": {
      "y": {"field": "g", "type": "quantitative", "scale": {"domain": [-39.781, 11.547], "nice": false, "zero": false}, "axis": {"values": [-35, -30, -25, -20, -15, -10, -5, 0, 5, 10], "labelExpr": "'' + datum.value", "title": null, "grid": false, "domain": false, "tickSize": 5, "tickColor": "#3a3a3a", "offset": -55, "labelPadding": 3, "labelOverlap": false, "labelFlush": false, "labelFont": "Open Sans", "labelFontSize": 13.5, "labelColor": "#1a1a1a", "zindex": 1}},
      "x": {"datum": 5.13, "type": "quantitative", "scale": {"domain": [5.114732, 5.256696], "nice": false, "zero": false}, "axis": {"values": [5.13, 5.14, 5.16, 5.18, 5.2, 5.22, 5.24, 5.25], "labelExpr": "datum.value + 'G'", "title": null, "grid": false, "domain": false, "tickSize": 5, "tickColor": "#3a3a3a", "offset": -31, "labelPadding": 3, "labelOverlap": false, "labelFlush": false, "labelFont": "Open Sans", "labelFontSize": 13.5, "labelColor": "#1a1a1a", "zindex": 1}},
      "x2": {"datum": 5.25}}},
    {"data": {"values": [
      {"f": 5.171769, "v": 3.5, "t": "OBW-l", "port": "Port 1"}, {"f": 5.208171, "v": 5.6, "t": "OBW-h", "port": "Port 1"},
      {"f": 5.171769, "v": 4.7, "t": "OBW-l", "port": "Port 2"}, {"f": 5.208171, "v": 3.8, "t": "OBW-h", "port": "Port 2"}]},
     "mark": {"type": "text", "fontSize": 14.5, "baseline": "middle", "opacity": 0.8},
     "encoding": {
      "x": {"field": "f", "type": "quantitative", "scale": {"domain": [5.114732, 5.256696], "nice": false, "zero": false}, "axis": {"values": [5.13, 5.14, 5.16, 5.18, 5.2, 5.22, 5.24, 5.25], "labelExpr": "datum.value + 'G'", "title": null, "grid": false, "domain": false, "tickSize": 5, "tickColor": "#3a3a3a", "offset": -31, "labelPadding": 3, "labelOverlap": false, "labelFlush": false, "labelFont": "Open Sans", "labelFontSize": 13.5, "labelColor": "#1a1a1a", "zindex": 1}},
      "y": {"field": "v", "type": "quantitative", "scale": {"domain": [-39.781, 11.547], "nice": false, "zero": false}, "axis": {"values": [-35, -30, -25, -20, -15, -10, -5, 0, 5, 10], "labelExpr": "'' + datum.value", "title": null, "grid": false, "domain": false, "tickSize": 5, "tickColor": "#3a3a3a", "offset": -55, "labelPadding": 3, "labelOverlap": false, "labelFlush": false, "labelFont": "Open Sans", "labelFontSize": 13.5, "labelColor": "#1a1a1a", "zindex": 1}},
      "text": {"field": "t"},
      "color": {"field": "port", "type": "nominal", "scale": {"domain": ["Port 1", "Port 2"], "range": ["#0a2ecc", "#ff0000"]}, "legend": null}}},
    {"data": {"name": "spec"}, "mark": {"type": "line", "color": "#ff0000", "strokeWidth": 1.1},
     "encoding": {
      "x": {"field": "f", "type": "quantitative", "scale": {"domain": [5.114732, 5.256696], "nice": false, "zero": false}, "axis": {"values": [5.13, 5.14, 5.16, 5.18, 5.2, 5.22, 5.24, 5.25], "labelExpr": "datum.value + 'G'", "title": null, "grid": false, "domain": false, "tickSize": 5, "tickColor": "#3a3a3a", "offset": -31, "labelPadding": 3, "labelOverlap": false, "labelFlush": false, "labelFont": "Open Sans", "labelFontSize": 13.5, "labelColor": "#1a1a1a", "zindex": 1}},
      "y": {"field": "b", "type": "quantitative", "scale": {"domain": [-39.781, 11.547], "nice": false, "zero": false}, "axis": {"values": [-35, -30, -25, -20, -15, -10, -5, 0, 5, 10], "labelExpr": "'' + datum.value", "title": null, "grid": false, "domain": false, "tickSize": 5, "tickColor": "#3a3a3a", "offset": -55, "labelPadding": 3, "labelOverlap": false, "labelFlush": false, "labelFont": "Open Sans", "labelFontSize": 13.5, "labelColor": "#1a1a1a", "zindex": 1}}}},
    {"data": {"name": "spec"}, "mark": {"type": "line", "color": "#0a2ecc", "strokeWidth": 1.1},
     "encoding": {
      "x": {"field": "f", "type": "quantitative", "scale": {"domain": [5.114732, 5.256696], "nice": false, "zero": false}, "axis": {"values": [5.13, 5.14, 5.16, 5.18, 5.2, 5.22, 5.24, 5.25], "labelExpr": "datum.value + 'G'", "title": null, "grid": false, "domain": false, "tickSize": 5, "tickColor": "#3a3a3a", "offset": -31, "labelPadding": 3, "labelOverlap": false, "labelFlush": false, "labelFont": "Open Sans", "labelFontSize": 13.5, "labelColor": "#1a1a1a", "zindex": 1}},
      "y": {"field": "a", "type": "quantitative", "scale": {"domain": [-39.781, 11.547], "nice": false, "zero": false}, "axis": {"values": [-35, -30, -25, -20, -15, -10, -5, 0, 5, 10], "labelExpr": "'' + datum.value", "title": null, "grid": false, "domain": false, "tickSize": 5, "tickColor": "#3a3a3a", "offset": -55, "labelPadding": 3, "labelOverlap": false, "labelFlush": false, "labelFont": "Open Sans", "labelFontSize": 13.5, "labelColor": "#1a1a1a", "zindex": 1}}}},
    {"data": {"values": [
      {"f": 5.171769, "port": "Port 2"}, {"f": 5.208171, "port": "Port 2"}, {"f": 5.171769, "port": "Port 1"}, {"f": 5.208171, "port": "Port 1"}]},
     "mark": {"type": "rule", "strokeDash": [3, 3]},
     "encoding": {
      "x": {"field": "f", "type": "quantitative", "scale": {"domain": [5.114732, 5.256696], "nice": false, "zero": false}, "axis": {"values": [5.13, 5.14, 5.16, 5.18, 5.2, 5.22, 5.24, 5.25], "labelExpr": "datum.value + 'G'", "title": null, "grid": false, "domain": false, "tickSize": 5, "tickColor": "#3a3a3a", "offset": -31, "labelPadding": 3, "labelOverlap": false, "labelFlush": false, "labelFont": "Open Sans", "labelFontSize": 13.5, "labelColor": "#1a1a1a", "zindex": 1}},
      "y": {"datum": 10, "type": "quantitative", "scale": {"domain": [-39.781, 11.547], "nice": false, "zero": false}, "axis": {"values": [-35, -30, -25, -20, -15, -10, -5, 0, 5, 10], "labelExpr": "'' + datum.value", "title": null, "grid": false, "domain": false, "tickSize": 5, "tickColor": "#3a3a3a", "offset": -55, "labelPadding": 3, "labelOverlap": false, "labelFlush": false, "labelFont": "Open Sans", "labelFontSize": 13.5, "labelColor": "#1a1a1a", "zindex": 1}},
      "y2": {"datum": -35},
      "size": {"field": "port", "type": "ordinal", "scale": {"domain": ["Port 1", "Port 2"], "range": [1.4, 0.9]}, "legend": null},
      "color": {"field": "port", "type": "nominal", "scale": {"domain": ["Port 1", "Port 2"], "range": ["#0a2ecc", "#ff0000"]}, "legend": null}}}
   ]
  }
 ], "spacing": 9},
 {"width": 757, "height": 97,
  "view": {"fill": {"gradient": "linear", "x1": 0, "y1": 0, "x2": 0, "y2": 1, "stops": [{"offset": 0, "color": "#e6e6e6"}, {"offset": 0.2, "color": "#e6e6e6"}, {"offset": 0.2, "color": "#d3d3d3"}, {"offset": 1, "color": "#d3d3d3"}]}, "stroke": "#a4a4a4", "cornerRadius": 5},
  "data": {"values": [
   {"r":0,"c":0,"t":"26dB(Hz)"},{"r":0,"c":1,"t":"Fl-26dB(Hz)"},{"r":0,"c":2,"t":"Fh-26dB(Hz)"},{"r":0,"c":3,"t":"OBW(Hz)"},
   {"r":0,"c":4,"t":"Fl-OBW(Hz)"},{"r":0,"c":5,"t":"Fh-OBW(Hz)"},{"r":0,"c":6,"t":"Limit(Hz)"},{"r":0,"c":7,"t":"Port"},
   {"r":1,"c":0,"t":"39.84M"},{"r":1,"c":1,"t":"5.16996G"},{"r":1,"c":2,"t":"5.2098G"},{"r":1,"c":3,"t":"36.402M"},
   {"r":1,"c":4,"t":"5.171769G"},{"r":1,"c":5,"t":"5.208171G"},{"r":1,"c":6,"t":"Inf"},{"r":1,"c":7,"t":"1"},
   {"r":2,"c":0,"t":"39.9M"},{"r":2,"c":1,"t":"5.17008G"},{"r":2,"c":2,"t":"5.20998G"},{"r":2,"c":3,"t":"36.402M"},
   {"r":2,"c":4,"t":"5.171769G"},{"r":2,"c":5,"t":"5.208171G"},{"r":2,"c":6,"t":"Inf"},{"r":2,"c":7,"t":"2"}
  ]},
  "encoding": {
   "x": {"field": "c", "type": "ordinal", "scale": {"type": "band", "paddingInner": 0, "paddingOuter": 0.16}, "axis": null},
   "y": {"field": "r", "type": "ordinal", "scale": {"type": "band", "paddingInner": 0, "paddingOuter": 0.6087, "align": 0.464}, "axis": null}
  },
  "layer": [
   {"mark": {"type": "rect", "fill": "white", "stroke": "#d2d2d2", "strokeWidth": 1.2}},
   {"mark": {"type": "text", "align": "left", "baseline": "middle", "dx": -39.5, "fontSize": 13.5, "color": "#1a1a1a"}, "encoding": {"text": {"field": "t"}}}
  ]
 }
], "spacing": 6}
],
"spacing": 7
}
